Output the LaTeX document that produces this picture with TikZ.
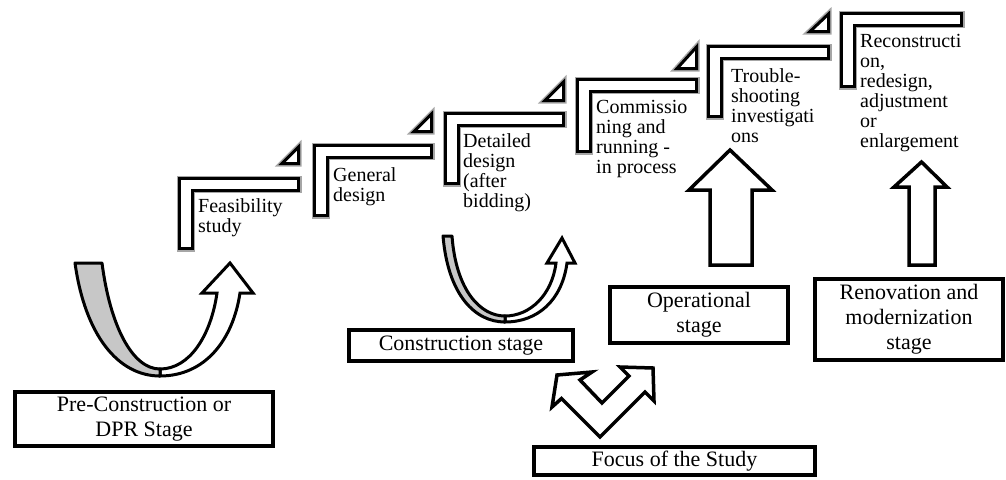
\documentclass[tikz,border=0pt]{standalone}
\usepackage{fontspec}
\setmainfont{Liberation Serif}
\begin{document}
\begin{tikzpicture}[x=1pt,y=-1pt,
  stepline/.style={draw=black, fill=white, line width=3pt, line join=miter,
    preaction={draw=black!35, line width=6pt}},
  steptext/.style={inner sep=0pt, anchor=base west, font=\fontsize{20}{20}\selectfont},
  stagebox/.style={draw=black, fill=white, line width=4pt, align=center, inner sep=0pt,
    font=\fontsize{22}{25}\selectfont},
  blockarrow/.style={draw=black, fill=white, line width=3.5pt, line join=miter},
  uturnback/.style={draw=black, fill=black!22, line width=3pt, line join=round},
  uturnfront/.style={draw=black, fill=white, line width=3pt, line join=miter}]
\useasboundingbox (0,0) rectangle (1006,479);

% one stair step: #1 left, #2 top, #3 right end, #4 bottom of the riser
\newcommand\stairstep[4]{%
  \path[stepline] ({#1+1.5},{#2+1.5}) -- ({#3-1.5},{#2+1.5}) -- ({#3-1.5},{#2+13})
    -- ({#1+14},{#2+13}) -- ({#1+14},{#4-1.5}) -- ({#1+1.5},{#4-1.5}) -- cycle;}
% small corner triangle: #1 left, #2 top, #3 right, #4 bottom
\newcommand\stairtri[4]{%
  \path[stepline] ({#1+2},{#4-1.5}) -- ({#3-1.5},{#4-1.5}) -- ({#3-1.5},{#2+2}) -- cycle;}

% stairs
\stairstep{178}{177}{300}{250}
\stairstep{313}{144}{433}{217}
\stairstep{444}{112}{565}{185}
\stairstep{576}{78}{698}{153}
\stairstep{707}{45}{830}{118}
\stairstep{840}{12}{963}{88}
\stairtri{280}{145}{300}{165}
\stairtri{412}{112}{433}{133}
\stairtri{543}{80}{565}{102}
\stairtri{675}{45}{698}{70}
\stairtri{808}{12}{830}{33}

% step labels
\node[steptext] (feas) at (198,212) {\parbox[t]{120pt}{Feasibility\\study}};
\node[steptext] (gen)  at (333,181) {\parbox[t]{120pt}{General\\design}};
\node[steptext] (det)  at (463,147) {\parbox[t]{120pt}{Detailed\\design\\(after\\bidding)}};
\node[steptext] (comm) at (596,113) {\parbox[t]{120pt}{Commissio\\ning and\\running -\\in process}};
\node[steptext] (trob) at (731,82)  {\parbox[t]{120pt}{Trouble-\\shooting\\investigati\\ons}};
\node[steptext] (reco) at (860,47)  {\parbox[t]{140pt}{Reconstructi\\on,\\redesign,\\adjustment\\or\\enlargement}};

% U-turn arrow of the pre-construction stage
\path[uturnfront] (160,376) .. controls (205,376) and (233,340) .. (240,293)
  -- (253,293) -- (230,263) -- (202,293) -- (217,293)
  .. controls (211,335) and (190,369) .. (160,369) -- cycle;
\path[uturnback] (75,263) .. controls (85,335) and (118,376) .. (160,376)
  -- (160,369) .. controls (132,369) and (110,325) .. (102,263) -- cycle;

% U-turn arrow of the construction stage
\path[uturnfront] (505,322) .. controls (538,322) and (562,300) .. (567,263)
  -- (575,263) -- (562,238) -- (547,263) -- (556,263)
  .. controls (552,295) and (530,316) .. (505,316) -- cycle;
\path[uturnback] (443,236) .. controls (448,295) and (475,322) .. (505,322)
  -- (505,316) .. controls (480,316) and (456,290) .. (452,236) -- cycle;

% block arrows up to the stairs
\path[blockarrow] (730,150) -- (772,190) -- (752,190) -- (752,265) -- (710,265)
  -- (710,190) -- (689,190) -- cycle;
\path[blockarrow] (921.5,162) -- (947,187) -- (935,187) -- (935,265) -- (909,265)
  -- (909,187) -- (894,187) -- cycle;

% two-headed V arrow
\path[blockarrow] (600,437) -- (561.5,398.5) -- (552,407) -- (557,375) -- (592,372)
  -- (580,380) -- (602,403) -- (629,376) -- (620,367) -- (653,368)
  -- (654,401) -- (645,392) -- cycle;

% stage boxes
\node[stagebox, minimum width=258pt, minimum height=54pt] (pre) at (144,419)
  {Pre-Construction or\\DPR Stage};
\node[stagebox, minimum width=224pt, minimum height=31pt] (cons) at (461,345.5)
  {Construction stage};
\node[stagebox, minimum width=178pt, minimum height=56pt] (oper) at (699,315)
  {Operational\\stage};
\node[stagebox, minimum width=188pt, minimum height=81pt] (reno) at (909,319.5)
  {Renovation and\\modernization\\stage};
\node[stagebox, minimum width=281pt, minimum height=28pt] (focus) at (674.5,461)
  {Focus of the Study};
\end{tikzpicture}
\end{document}
